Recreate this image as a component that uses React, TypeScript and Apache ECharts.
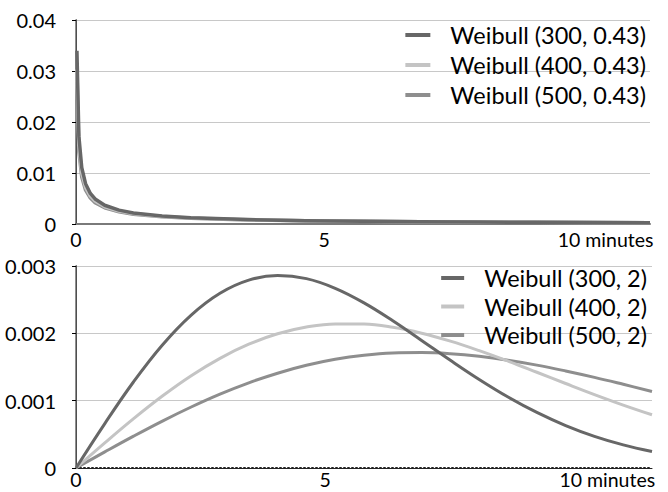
import React, { useEffect, useRef } from "react";
import * as echarts from "echarts";

// x positions in axis units (as drawn against the 0 / 5 / 10 minutes labels)
const xTop = [0.019, 0.058, 0.116, 0.193, 0.289, 0.385, 0.578, 0.867, 1.156, 1.734, 2.312, 3.468, 4.624, 5.78, 6.936, 8.092, 9.249, 10.405, 11.56];
const w300k043 = [0.03396, 0.01723, 0.01107, 0.007901, 0.006, 0.004911, 0.003672, 0.002716, 0.002175, 0.001569, 0.001231, 0.000859, 0.000656, 0.000527, 0.000438, 0.000372, 0.000322, 0.000283, 0.000251];
const w400k043 = [0.03031, 0.01547, 0.009993, 0.007173, 0.005474, 0.0045, 0.003389, 0.002526, 0.002037, 0.001486, 0.001177, 0.000834, 0.000645, 0.000523, 0.000439, 0.000377, 0.000328, 0.00029, 0.000259];
const w500k043 = [0.02773, 0.01422, 0.009215, 0.00664, 0.005086, 0.004193, 0.003173, 0.002379, 0.001927, 0.001417, 0.001129, 0.000808, 0.00063, 0.000516, 0.000435, 0.000376, 0.000329, 0.000293, 0.000263];

const xBottom = [0, 0.578, 1.156, 1.734, 2.312, 2.89, 3.468, 4.046, 4.624, 5.202, 5.78, 6.358, 6.936, 7.514, 8.092, 8.671, 9.249, 9.827, 10.405, 10.983, 11.56];
const w300k2 = [0, 0.00066, 0.001281, 0.001828, 0.002272, 0.002596, 0.002791, 0.002859, 0.002812, 0.002669, 0.002453, 0.002187, 0.001895, 0.001599, 0.001315, 0.001054, 0.000825, 0.00063, 0.00047, 0.000343, 0.000244];
const w400k2 = [0, 0.000373, 0.000733, 0.001069, 0.001371, 0.001629, 0.001838, 0.001993, 0.002093, 0.00214, 0.002137, 0.002089, 0.002002, 0.001884, 0.001743, 0.001587, 0.001422, 0.001255, 0.001091, 0.000935, 0.000791];
const w500k2 = [0, 0.000239, 0.000473, 0.000697, 0.000906, 0.001097, 0.001265, 0.001408, 0.001525, 0.001614, 0.001674, 0.001708, 0.001715, 0.001698, 0.001659, 0.001601, 0.001528, 0.001441, 0.001346, 0.001243, 0.001137];

const topNames = ["Weibull (300, 0.43)", "Weibull (400, 0.43)", "Weibull (500, 0.43)"];
const bottomNames = ["Weibull (300, 2)", "Weibull (400, 2)", "Weibull (500, 2)"];
const X_MAX = 11.56;

const COLORS = ["#676767", "#c4c4c4", "#8e8e8e"];
const FONT = "Lato";

function zip(xs: number[], ys: number[]) {
  return xs.map((x, i) => [x, ys[i]]);
}

export default function App() {
  const ref = useRef<HTMLDivElement>(null);
  useEffect(() => {
    if (!ref.current) return;
    const chart = echarts.init(ref.current, undefined, { renderer: "svg" });

    const xLabelFmt = (v: number) => {
      if (v === 0) return "0";
      if (v === 5) return "5";
      if (v === 10) return "{m|10 minutes}";
      return "";
    };

    const mainX = (gridIndex: number, margin: number) => ({
      type: "value",
      gridIndex,
      min: 0,
      max: X_MAX,
      interval: 5,
      position: "bottom",
      axisLine: { show: true, onZero: false, lineStyle: { color: "#222", width: 2, type: [1, 3] } },
      axisTick: { show: false },
      splitLine: { show: false },
      axisLabel: {
        show: true,
        margin,
        color: "#000",
        fontFamily: FONT,
        fontSize: 19.5,
        lineHeight: 19,
        showMaxLabel: false,
        formatter: xLabelFmt,
        rich: { m: { fontFamily: FONT, fontSize: 19.5, lineHeight: 19, color: "#000", padding: [0, 0, 0, 66] } },
      },
    });

    const borderX = (gridIndex: number, color: string, width: number) => ({
      type: "value",
      gridIndex,
      min: 0,
      max: X_MAX,
      position: "top",
      axisLine: { show: true, lineStyle: { color, width } },
      axisTick: { show: false },
      axisLabel: { show: false },
      splitLine: { show: false },
    });

    const mainY = (gridIndex: number, max: number, interval: number, digits: number) => ({
      type: "value",
      gridIndex,
      min: 0,
      max,
      interval,
      position: "left",
      axisLine: { show: true, lineStyle: { color: "#000", width: 1 } },
      axisTick: { show: true, length: 4, lineStyle: { color: "#000" } },
      splitLine: { show: true, lineStyle: { color: "#c8c8c8", width: 1 } },
      axisLabel: {
        margin: 20,
        color: "#000",
        fontFamily: FONT,
        fontSize: 20,
        formatter: (v: number) => (v === 0 ? "0" : v.toFixed(digits)),
      },
    });

    const borderY = (gridIndex: number, max: number) => ({
      type: "value",
      gridIndex,
      min: 0,
      max,
      position: "right",
      axisLine: { show: true, lineStyle: { color: "#6a6a6a", width: 1.5 } },
      axisTick: { show: false },
      axisLabel: { show: false },
      splitLine: { show: false },
    });

    const lineSeries = (name: string, xi: number, yi: number, data: number[][], color: string, z: number, smooth: boolean | number, width: number) => ({
      type: "line",
      name,
      xAxisIndex: xi,
      yAxisIndex: yi,
      data,
      showSymbol: false,
      symbol: "none",
      smooth,
      z,
      lineStyle: { color, width, join: "round" },
      itemStyle: { color },
    });

    const legendBase = {
      orient: "vertical",
      icon: "rect",
      itemHeight: 4,
      padding: 0,
      align: "left",
      textStyle: { fontFamily: FONT, fontSize: 23.5, color: "#000", lineHeight: 24, padding: [0, 0, 0, 15] },
    };

    chart.setOption({
      animation: false,
      backgroundColor: "#fff",
      grid: [
        { left: 76, right: 18, top: 20, bottom: 268 },
        { left: 76, right: 16, top: 266, bottom: 24 },
      ],
      xAxis: [mainX(0, 6), borderX(0, "#7a7a7a", 2), mainX(1, 2), borderX(1, "#222", 1)],
      yAxis: [mainY(0, 0.04, 0.01, 2), borderY(0, 0.04), mainY(1, 0.003, 0.001, 3), borderY(1, 0.003)],
      legend: [
        { ...legendBase, right: 22, top: 23, itemWidth: 25, itemGap: 6, data: topNames },
        { ...legendBase, right: 21, top: 266, itemWidth: 23, itemGap: 4.5, data: bottomNames },
      ],
      series: [
        lineSeries(topNames[2], 0, 0, zip(xTop, w500k043), COLORS[2], 2, false, 3.5),
        lineSeries(topNames[1], 0, 0, zip(xTop, w400k043), COLORS[1], 3, false, 3.5),
        lineSeries(topNames[0], 0, 0, zip(xTop, w300k043), COLORS[0], 4, false, 3.5),
        lineSeries(bottomNames[2], 2, 2, zip(xBottom, w500k2), COLORS[2], 2, 0.4, 3),
        lineSeries(bottomNames[1], 2, 2, zip(xBottom, w400k2), COLORS[1], 3, 0.4, 3),
        lineSeries(bottomNames[0], 2, 2, zip(xBottom, w300k2), COLORS[0], 4, 0.4, 3),
      ],
    });
    return () => chart.dispose();
  }, []);
  return <div ref={ref} style={{ position: "fixed", left: 0, top: 0, width: 668, height: 492 }} />;
}
